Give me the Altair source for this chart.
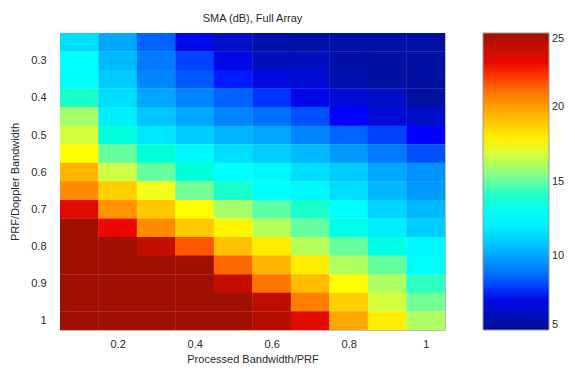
import altair as alt
import pandas as pd

x_vals = [0.1, 0.2, 0.3, 0.4, 0.5, 0.6, 0.7, 0.8, 0.9, 1.0]
y_vals = [0.25, 0.30, 0.35, 0.40, 0.45, 0.50, 0.55, 0.60,
          0.65, 0.70, 0.75, 0.80, 0.85, 0.90, 0.95, 1.00]

r025 = [11.5, 10.0, 8.5, 7.0, 6.3, 5.6, 5.5, 5.5, 5.5, 5.5]
r030 = [12.5, 10.5, 9.0, 8.0, 7.0, 6.0, 6.0, 5.5, 5.4, 5.4]
r035 = [12.8, 11.0, 9.2, 8.3, 7.6, 6.8, 6.5, 5.7, 5.4, 5.4]
r040 = [14.0, 11.5, 10.0, 9.2, 8.5, 7.8, 7.0, 6.6, 6.2, 5.4]
r045 = [16.0, 12.0, 10.8, 10.0, 9.2, 8.8, 8.2, 7.5, 6.6, 6.3]
r050 = [16.8, 13.6, 11.8, 11.0, 10.3, 10.0, 9.2, 8.5, 8.0, 7.5]
r055 = [17.5, 15.0, 13.7, 12.3, 11.5, 11.0, 10.5, 9.7, 9.0, 8.2]
r060 = [19.5, 16.7, 15.0, 13.8, 12.5, 12.3, 11.5, 11.0, 10.0, 9.5]
r065 = [20.5, 18.8, 17.3, 15.2, 14.0, 12.5, 12.3, 11.5, 10.5, 9.7]
r070 = [23.3, 20.3, 19.0, 17.5, 16.0, 14.8, 14.0, 12.5, 11.2, 10.5]
r075 = [25.0, 23.0, 20.5, 19.0, 17.8, 16.3, 15.0, 13.2, 12.0, 11.0]
r080 = [25.0, 25.0, 24.0, 21.6, 19.2, 18.0, 16.3, 15.0, 13.4, 12.3]
r085 = [25.0, 25.0, 25.0, 25.0, 21.3, 19.5, 18.0, 16.2, 15.0, 12.7]
r090 = [25.0, 25.0, 25.0, 25.0, 24.0, 21.0, 19.3, 17.5, 16.2, 14.2]
r095 = [25.0, 25.0, 25.0, 25.0, 25.0, 24.2, 20.8, 18.8, 16.8, 15.2]
r100 = [25.0, 25.0, 25.0, 25.0, 25.0, 24.5, 23.3, 19.8, 18.0, 16.2]

rows = [r025, r030, r035, r040, r045, r050, r055, r060,
        r065, r070, r075, r080, r085, r090, r095, r100]

records = []
for yv, row in zip(y_vals, rows):
    for xv, v in zip(x_vals, row):
        records.append({"x": xv, "y": yv, "v": v})
df = pd.DataFrame(records)

FONT = "Liberation Sans"
TXT = "#2a2a2a"

jet_domain = [5, 7.5, 12.5, 17.5, 22.5, 25]
jet_range = ["#001090", "#0000ff", "#00ffff", "#ffff00", "#ff0000", "#a01000"]

chart = (
    alt.Chart(df)
    .transform_calculate(
        x0="datum.x - 0.0505", x1="datum.x + 0.0505",
        y0="datum.y - 0.0255", y1="datum.y + 0.0255",
    )
    .mark_rect(clip=True, opacity=1, fillOpacity=1)
    .encode(
        x=alt.X("x0:Q", scale=alt.Scale(domain=[0.05, 1.05], nice=False, zero=False),
                axis=alt.Axis(values=[0.2, 0.4, 0.6, 0.8, 1.0], title="Processed Bandwidth/PRF",
                              grid=False, ticks=False, domain=False, labelPadding=8,
                              titlePadding=4, labelFlush=False, format="~g")),
        x2="x1:Q",
        y=alt.Y("y0:Q", scale=alt.Scale(domain=[0.225, 1.025], nice=False, zero=False, reverse=True),
                axis=alt.Axis(values=[0.3, 0.4, 0.5, 0.6, 0.7, 0.8, 0.9, 1.0],
                              title="PRF/Doppler Bandwidth", grid=False, ticks=False,
                              domain=False, labelPadding=14, titlePadding=10, labelFlush=False,
                              format="~g")),
        y2="y1:Q",
        color=alt.Color("v:Q",
                        scale=alt.Scale(domain=jet_domain, range=jet_range, clamp=True),
                        legend=alt.Legend(type="gradient", orient="none", legendX=423, legendY=0,
                                          direction="vertical", title=None,
                                          gradientLength=297, gradientThickness=66,
                                          values=[5, 10, 15, 20, 25],
                                          gradientStrokeColor="#999999", gradientStrokeWidth=1,
                                          labelOffset=3, labelFontSize=11, labelFont=FONT,
                                          labelColor=TXT, labelOverlap=False)),
    )
    .properties(
        width=385, height=297,
        title=alt.Title("SMA (dB), Full Array", fontSize=11, font=FONT, color=TXT,
                        fontWeight="normal", offset=9),
        autosize=alt.AutoSizeParams(type="none"),
        padding={"left": 52, "top": 25, "right": 120, "bottom": 35},
    )
    .configure_view(stroke="#bbbbbb", strokeWidth=1)
    .configure_axis(labelFont=FONT, titleFont=FONT, labelFontSize=11, titleFontSize=11,
                    labelColor=TXT, titleColor=TXT, titleFontWeight="normal")
)

chart.save("out.html", embed_options={"renderer": "svg", "actions": False})
